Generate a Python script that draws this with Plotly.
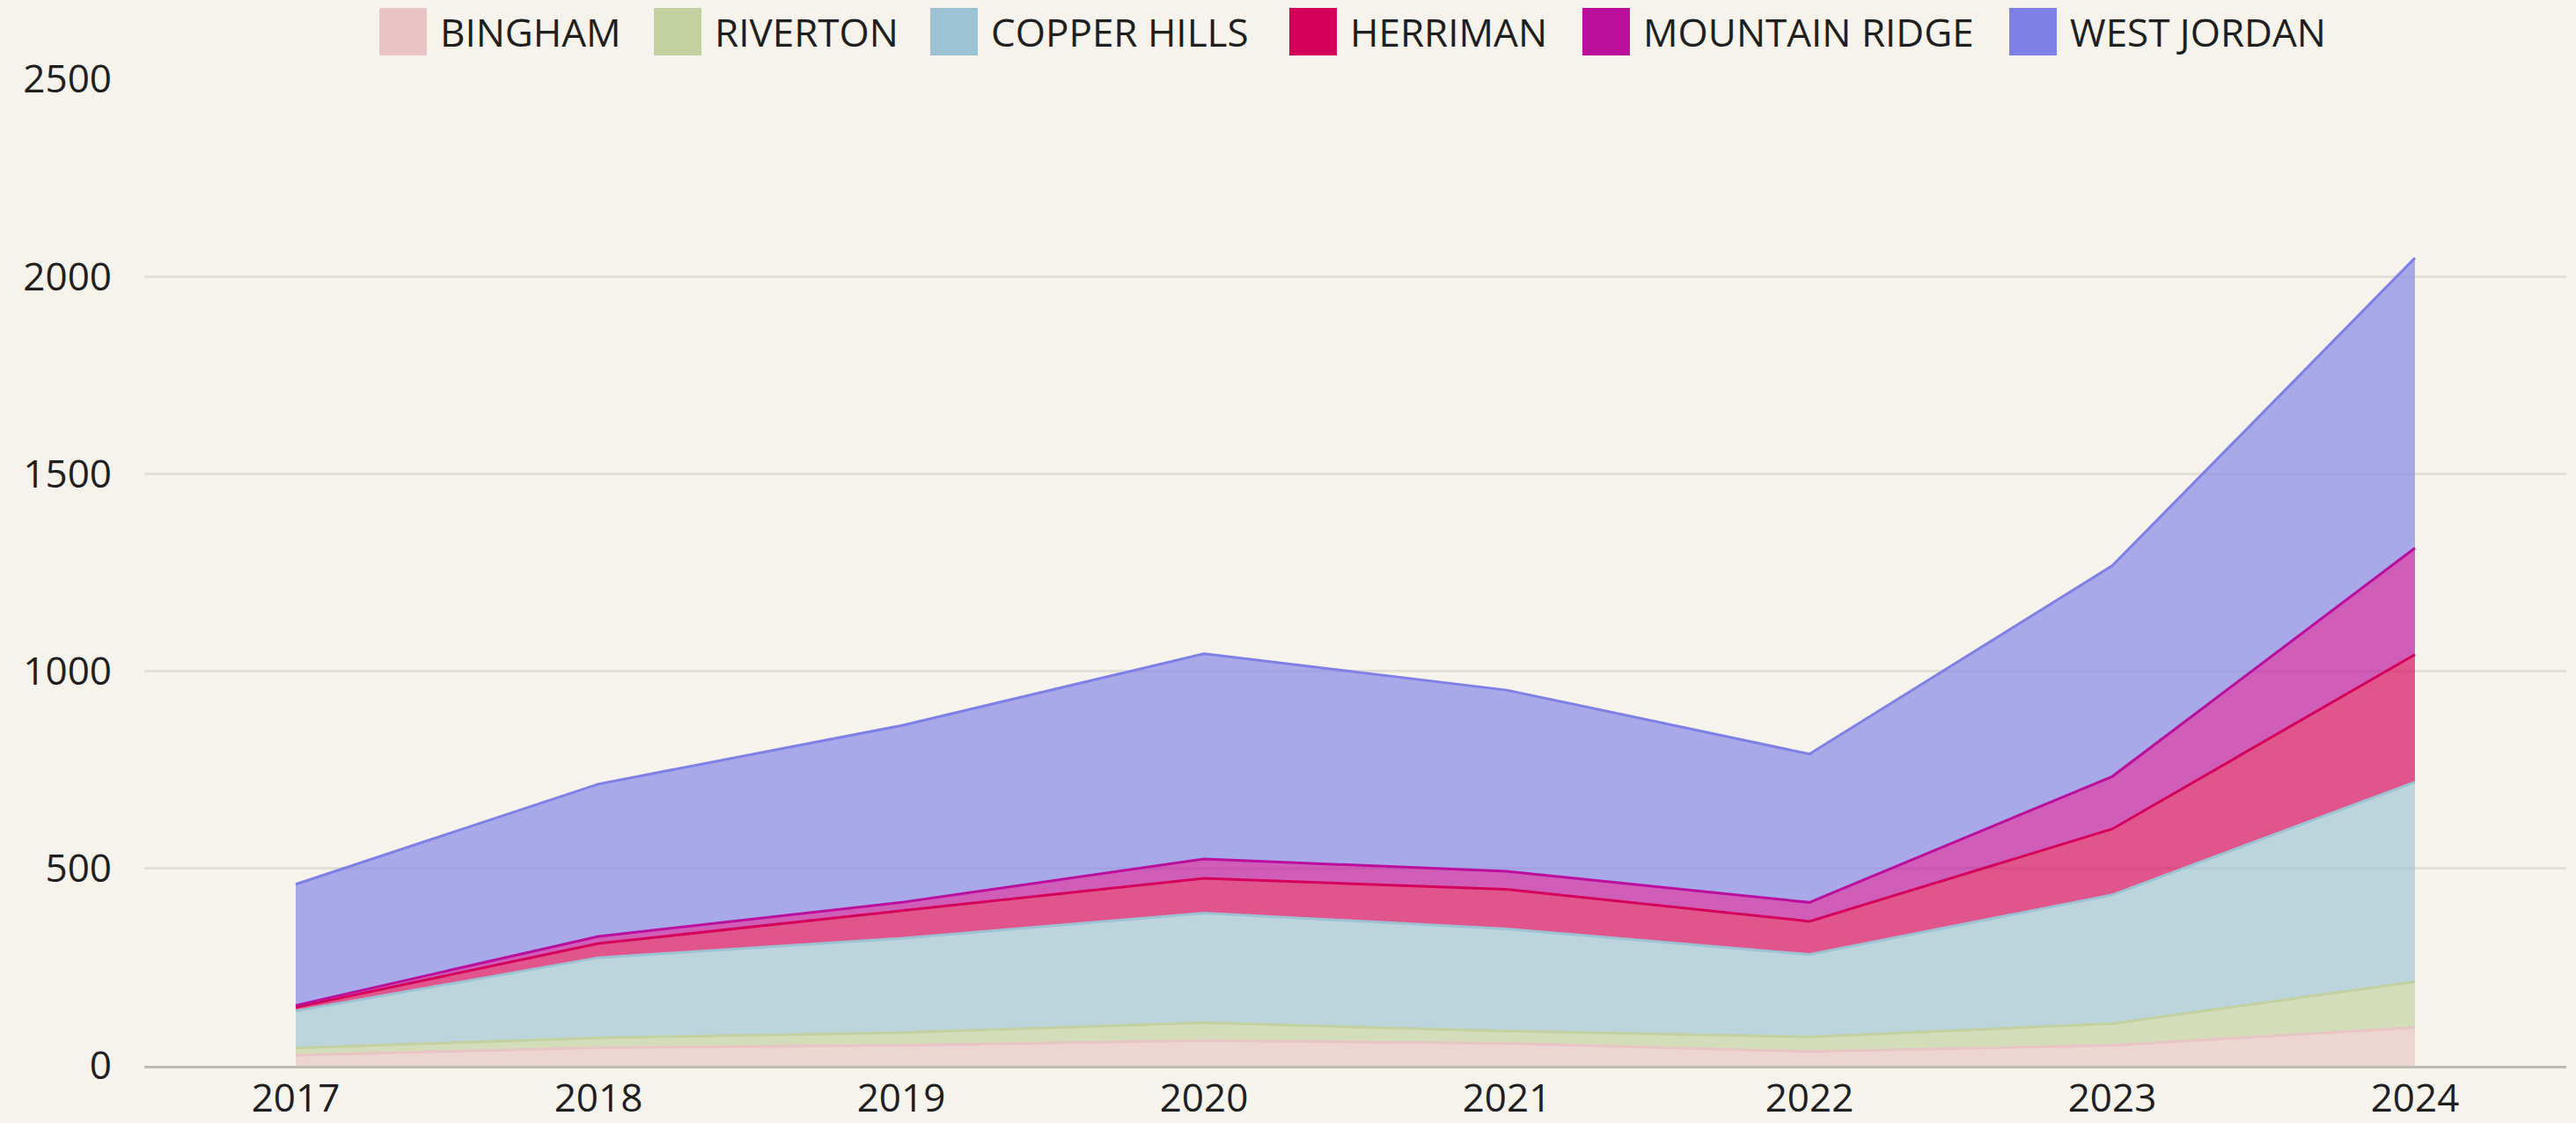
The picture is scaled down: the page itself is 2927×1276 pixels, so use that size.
import plotly.graph_objects as go

years = [2017, 2018, 2019, 2020, 2021, 2022, 2023, 2024]

bingham = [27, 46, 52, 64, 57, 36, 52, 97]
riverton = [18, 25, 32, 45, 31, 37, 55, 116]
copper_hills = [94, 203, 239, 278, 259, 209, 326, 506]
herriman = [9, 36, 70, 88, 100, 84, 167, 323]
mountain_ridge = [5, 18, 21, 49, 46, 48, 133, 270]
west_jordan = [307, 386, 448, 520, 459, 376, 534, 735]

series_names = ["BINGHAM", "RIVERTON", "COPPER HILLS", "HERRIMAN", "MOUNTAIN RIDGE", "WEST JORDAN"]
series_values = [bingham, riverton, copper_hills, herriman, mountain_ridge, west_jordan]
series_colors = ["#E8C4C4", "#C2D19F", "#9CC3D3", "#D5005A", "#BB0E9C", "#7F80E6"]

y_ticks = [0, 500, 1000, 1500, 2000, 2500]

# layout (pixel geometry)
W, H = 2927, 1276
PL, PR, PT, PB = 164, 2916, 90, 1211
legend_square_x = [431, 743, 1057, 1465, 1798, 2283]
legend_square_size = 54
legend_top = 9
BG = "#F5F3EC"
FONT = "Open Sans"


def rgba(hexc, a):
    h = hexc.lstrip("#")
    r, g, b = int(h[0:2], 16), int(h[2:4], 16), int(h[4:6], 16)
    return f"rgba({r},{g},{b},{a})"


def px_x(px):
    return (px - PL) / (PR - PL)


def px_y(py):
    return (PB - py) / (PB - PT)


fig = go.Figure()
for name, vals, col in zip(series_names, series_values, series_colors):
    fig.add_trace(go.Scatter(
        x=years, y=vals, name=name, mode="lines",
        stackgroup="one",
        line=dict(color=col, width=3),
        fillcolor=rgba(col, 0.65),
        showlegend=False,
    ))

shapes = []
annotations = []
for name, col, sx in zip(series_names, series_colors, legend_square_x):
    shapes.append(dict(
        type="rect", xref="paper", yref="paper",
        x0=px_x(sx), x1=px_x(sx + legend_square_size),
        y0=px_y(legend_top + legend_square_size), y1=px_y(legend_top),
        fillcolor=col, line=dict(width=0), layer="above",
    ))
    annotations.append(dict(
        xref="paper", yref="paper",
        x=px_x(sx + legend_square_size + 13), y=px_y(legend_top + legend_square_size / 2),
        xanchor="left", yanchor="middle", showarrow=False,
        text=name, font=dict(family=FONT, size=44, color="#1f1f1f"),
    ))

fig.update_layout(
    width=W, height=H,
    margin=dict(l=PL, r=W - PR, t=PT, b=H - PB, pad=0, autoexpand=False),
    paper_bgcolor=BG, plot_bgcolor=BG,
    font=dict(family=FONT, size=44, color="#1f1f1f"),
    shapes=shapes, annotations=annotations,
    showlegend=False,
    xaxis=dict(
        range=[2016.5, 2024.5], tickmode="array", tickvals=years,
        ticktext=[str(y) for y in years],
        showgrid=False, zeroline=False, showline=True,
        linecolor="#BDBBB3", linewidth=3, ticks="",
        automargin=False,
        ticklabelstandoff=-4,
        tickfont=dict(family=FONT, size=44, color="#1f1f1f"),
    ),
    yaxis=dict(
        range=[0, 2500], tickmode="array", tickvals=y_ticks,
        showgrid=True, gridcolor="#E2DFD7", gridwidth=3,
        zeroline=False, showline=False, ticks="",
        automargin=False,
        ticklabelstandoff=36,
        tickfont=dict(family=FONT, size=44, color="#1f1f1f"),
    ),
)

fig.write_html(
    "out.html",
    config={"displayModeBar": False},
    post_script="document.body.style.margin='0';document.body.style.overflow='hidden';",
)
